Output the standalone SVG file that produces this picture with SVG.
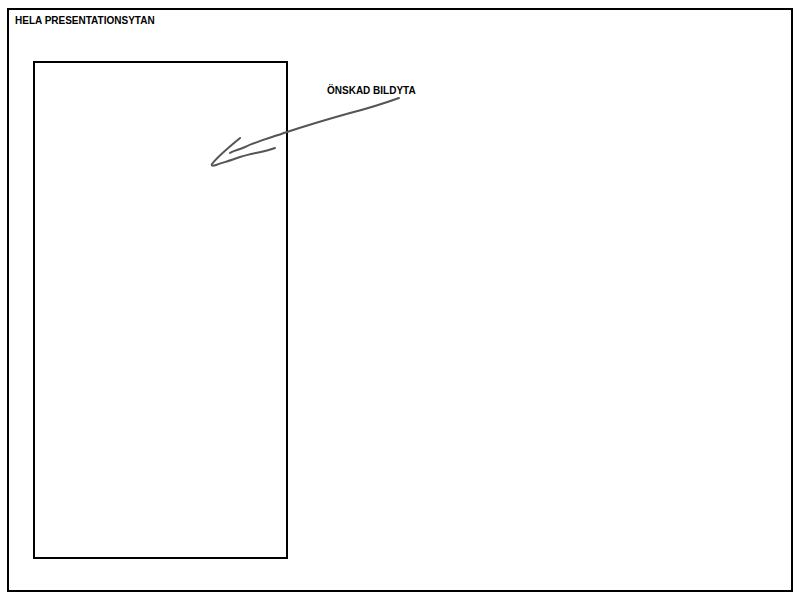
<svg xmlns="http://www.w3.org/2000/svg" width="800" height="600" viewBox="0 0 800 600">
<style>
.frame{fill:none;stroke:#000;stroke-width:2}
.lbl{font-family:"Liberation Sans",Arial,sans-serif;font-weight:bold;font-size:10px;fill:#000}
.pen{fill:none;stroke:#555;stroke-width:2;stroke-linecap:round;stroke-linejoin:round}
</style>
<rect width="800" height="600" fill="#fff"/>
<g id="presentation-area">
<rect class="frame" x="8" y="9" width="784" height="582"/>
<text class="lbl" x="15" y="24">HELA PRESENTATIONSYTAN</text>
</g>
<g id="image-area">
<rect class="frame" x="34" y="62" width="253" height="496"/>
</g>
<g id="label-image-area">
<text class="lbl" x="327" y="94">ÖNSKAD BILDYTA</text>
</g>
<g id="connectors">
<path class="pen" d="M399,98 C385,103 370,108 350,113 C325,120 305,126 287,132 C270,138 255,142 245,147 C238,150 233,151 230,153"/>
<path class="pen" d="M240,138 C228,148 218,156 212,164 C211,166 213,166 216,165 C225,162 232,160 240,157 C252,153 265,152 275,148"/>
</g>
</svg>
